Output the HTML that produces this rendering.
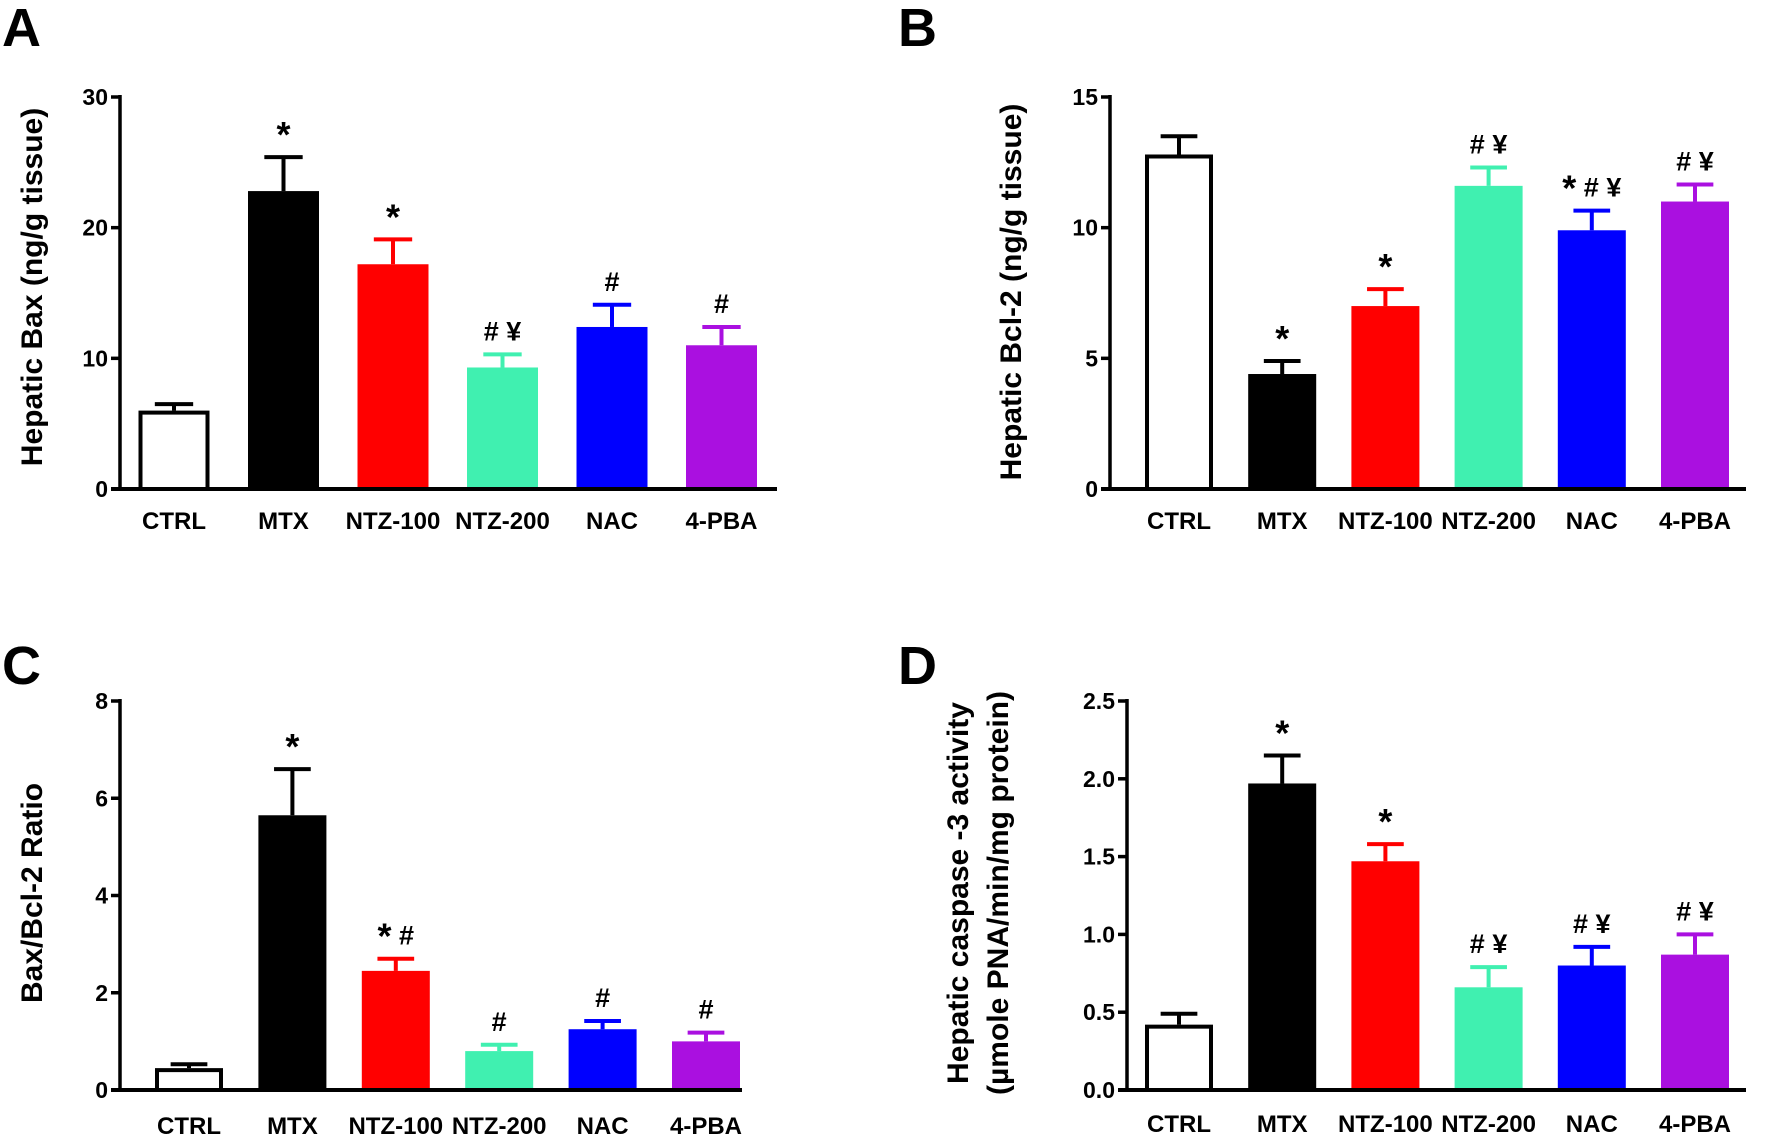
<!DOCTYPE html>
<html><head><meta charset="utf-8"><style>
html,body{margin:0;padding:0;background:#fff;}
svg{display:block;}
.lab{font-family:"Liberation Sans Narrow","Liberation Sans",sans-serif;font-weight:bold;}
.ttl{font-family:"Liberation Sans",sans-serif;font-weight:bold;}
</style></head><body>
<svg id="fig" width="1772" height="1140" viewBox="0 0 1772 1140" xmlns="http://www.w3.org/2000/svg"></svg>
<script>
const categories = ["CTRL","MTX","NTZ-100","NTZ-200","NAC","4-PBA"];
const colors = ["#ffffff","#000000","#ff0000","#40f0b0","#0000ff","#aa10e0"];
const baxValues = [6.0,22.8,17.2,9.3,12.4,11.0];
const baxErrors = [0.5,2.6,1.9,1.0,1.7,1.4];
const baxMarks = ["","*","*","# ¥","#","#"];
const baxTicks = ["0","10","20","30"];
const bclValues = [12.8,4.4,7.0,11.6,9.9,11.0];
const bclErrors = [0.7,0.5,0.65,0.7,0.75,0.65];
const bclMarks = ["","*","*","# ¥","* # ¥","# ¥"];
const bclTicks = ["0","5","10","15"];
const ratioValues = [0.45,5.65,2.45,0.8,1.25,1.0];
const ratioErrors = [0.08,0.95,0.25,0.13,0.17,0.18];
const ratioMarks = ["","*","* #","#","#","#"];
const ratioTicks = ["0","2","4","6","8"];
const caspValues = [0.42,1.97,1.47,0.66,0.80,0.87];
const caspErrors = [0.07,0.18,0.11,0.13,0.12,0.13];
const caspMarks = ["","*","*","# ¥","# ¥","# ¥"];
const caspTicks = ["0.0","0.5","1.0","1.5","2.0","2.5"];

const svg = document.getElementById('fig');
const NS = "http://www.w3.org/2000/svg";
function mk(tag, attrs, parent){
  const e = document.createElementNS(NS, tag);
  for (const k in attrs) e.setAttribute(k, attrs[k]);
  (parent||svg).appendChild(e);
  return e;
}

function panel(o){
  const g = mk('g', {});
  
  
  const yMax = parseFloat(o.ticks[o.ticks.length-1]);
  const yS = v => o.y0 - (v / yMax) * (o.y0 - o.yTop);
  const xS = i => o.xFirst + i * o.step;
  const L = mk('text', {x:o.letterX, y:o.letterY, 'font-size':54, class:'ttl'}, g);
  L.textContent = o.letter;
  
  
  o.values.forEach((v,i)=>{
    const cx = xS(i), w = o.barW;
    const top = yS(v);
    const r = mk('rect', {x:cx-w/2, y:top, width:w, height:o.y0-top,
      fill:o.colors[i], stroke:i===0?'#000':'none', 'stroke-width':i===0?4:0}, g);
    if (i===0){ r.setAttribute('x', cx-w/2+2); r.setAttribute('width', w-4); r.setAttribute('y', top+2); r.setAttribute('height', o.y0-top-2); }
    
    
    const et = yS(v + o.errors[i]);
    const ec = i===0 ? '#000' : o.colors[i];
    const el = mk('line', {x1:cx, x2:cx, y1:top, y2:et, stroke:ec, 'stroke-width':4}, g);
    
    
    const cap = mk('line', {x1:cx-w*0.27, x2:cx+w*0.27, y1:et, y2:et, stroke:ec, 'stroke-width':4}, g);
    
    
    if (o.marks[i]){
      const m = mk('text', {x:cx, y:et-14, 'text-anchor':'middle', 'font-size':27, class:'ttl'}, g);
      
      
      o.marks[i].split('').forEach(ch=>{
        const ts = mk('tspan', {}, m);
        if (ch === '*'){ ts.setAttribute('font-size', 36); ts.setAttribute('dy', 4); }
        else if (ch !== ' '){ ts.setAttribute('dy', 0); }
        ts.textContent = ch;
        if (ch === '*'){ const back = mk('tspan', {dy:-4, 'font-size':1}, m); back.textContent = '\u200b'; }
      });
    }
    const t = mk('text', {x:cx, y:o.labelY, 'text-anchor':'middle', 'font-size':24, class:'lab'}, g);
    t.textContent = o.categories[i];
    
    
  });
  const ya = mk('line', {x1:o.xAxis, x2:o.xAxis, y1:o.yTop-2, y2:o.y0, stroke:'#000', 'stroke-width':3.5}, g);
  
  
  const xa = mk('line', {x1:o.xAxis-9, x2:o.xEnd, y1:o.y0, y2:o.y0, stroke:'#000', 'stroke-width':4}, g);
  
  
  o.ticks.forEach(tk=>{
    const y = yS(parseFloat(tk));
    const tl = mk('line', {x1:o.xAxis-9, x2:o.xAxis, y1:y, y2:y, stroke:'#000', 'stroke-width':3.5}, g);
    
    
    const tt = mk('text', {x:o.xAxis-12, y:y+8, 'text-anchor':'end', 'font-size':23, class:'lab'}, g);
    tt.textContent = tk;
    
    
  });
  o.titles.forEach((tl,k)=>{
    const t = mk('text', {x:0, y:0, 'text-anchor':'middle', 'font-size':30, class:'ttl',
      transform:'translate('+o.titleX[k]+','+o.titleY+') rotate(-90)'}, g);
    t.textContent = tl;
    
    
  });
}

panel({name:'panel-a-bax', letter:'A', letterX:2, letterY:46, categories, colors,
  values:baxValues, errors:baxErrors, marks:baxMarks, ticks:baxTicks,
  xAxis:120, xEnd:777, yTop:97, y0:489, xFirst:174, step:109.5, barW:71, labelY:529,
  titles:['Hepatic Bax (ng/g tissue)'], titleX:[42], titleY:287});
panel({name:'panel-b-bcl2', letter:'B', letterX:898, letterY:46, categories, colors,
  values:bclValues, errors:bclErrors, marks:bclMarks, ticks:bclTicks,
  xAxis:1110, xEnd:1746, yTop:97, y0:489, xFirst:1179, step:103.2, barW:68, labelY:529,
  titles:['Hepatic Bcl-2 (ng/g tissue)'], titleX:[1021], titleY:292});
panel({name:'panel-c-ratio', letter:'C', letterX:2, letterY:684, categories, colors,
  values:ratioValues, errors:ratioErrors, marks:ratioMarks, ticks:ratioTicks,
  xAxis:120, xEnd:742, yTop:701, y0:1090, xFirst:189, step:103.4, barW:68, labelY:1134,
  titles:['Bax/Bcl-2 Ratio'], titleX:[42], titleY:893});
panel({name:'panel-d-caspase', letter:'D', letterX:898, letterY:684, categories, colors,
  values:caspValues, errors:caspErrors, marks:caspMarks, ticks:caspTicks,
  xAxis:1127, xEnd:1746, yTop:701, y0:1090, xFirst:1179, step:103.2, barW:68, labelY:1132,
  titles:['Hepatic caspase -3 activity','(\u00b5mole PNA/min/mg protein)'], titleX:[968,1008], titleY:893});
</script>
</body></html>
